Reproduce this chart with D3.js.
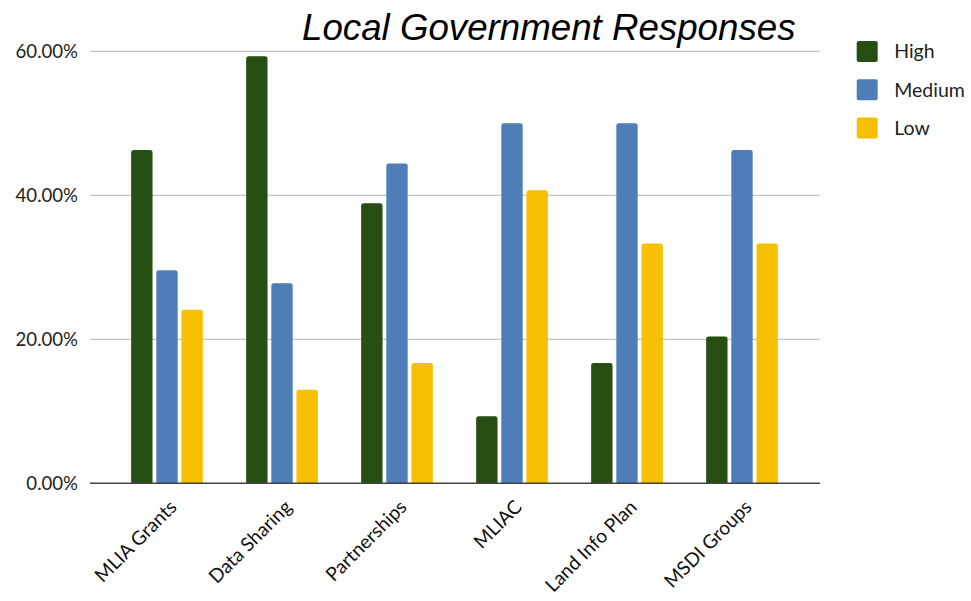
<!DOCTYPE html>
<html>
<head>
<meta charset="utf-8">
<script src="https://cdn.jsdelivr.net/npm/d3@7"></script>
<style>
  html, body { margin: 0; padding: 0; background: #ffffff; }
  svg { display: block; }
</style>
</head>
<body>
<svg id="chart" width="971" height="601"></svg>
<script>
const title = "Local Government Responses";
const categories = ["MLIA Grants", "Data Sharing", "Partnerships", "MLIAC", "Land Info Plan", "MSDI Groups"];
const seriesNames = ["High", "Medium", "Low"];
const highValues   = [0.463, 0.593, 0.389, 0.093, 0.167, 0.204];
const mediumValues = [0.296, 0.278, 0.444, 0.500, 0.500, 0.463];
const lowValues    = [0.241, 0.130, 0.167, 0.407, 0.333, 0.333];
const yTicks = [0, 0.2, 0.4, 0.6];
const colors = ["#274e13", "#4f7db7", "#f6c000"];

const seriesValues = [highValues, mediumValues, lowValues];
const svg = d3.select("#chart");
const font = "Lato, 'Open Sans', sans-serif";

const gridLeft = 90, gridRight = 820;
const y = d3.scaleLinear().domain([0, 0.6]).range([483.3, 51.3]);
const x0 = d3.scaleBand().domain(categories).range([109.5, 799.5]).padding(0);
const groupW = 71.7;
const x1 = d3.scaleBand().domain(seriesNames).range([0, groupW]).paddingInner(0.15).paddingOuter(0);

// gridlines
svg.append("g").selectAll("line").data(yTicks.filter(t => t > 0)).join("line")
  .attr("x1", gridLeft).attr("x2", gridRight)
  .attr("y1", d => y(d)).attr("y2", d => y(d))
  .attr("stroke", "#c6c6c6").attr("stroke-width", 1.2);

// y tick labels
svg.append("g").selectAll("text").data(yTicks).join("text")
  .attr("x", 78).attr("y", d => y(d)).attr("dy", "0.35em")
  .attr("text-anchor", "end")
  .attr("font-family", font).attr("font-size", 18.6).attr("fill", "#222")
  .text(d => d3.format(".2%")(d));

// bars with rounded tops
function barPath(bx, by, bw, bh, r) {
  r = Math.min(r, bh, bw / 2);
  return `M${bx},${by + bh} V${by + r} Q${bx},${by} ${bx + r},${by} H${bx + bw - r} Q${bx + bw},${by} ${bx + bw},${by + r} V${by + bh} Z`;
}
const groups = svg.append("g").selectAll("g").data(categories).join("g")
  .attr("transform", d => `translate(${x0(d) + (x0.bandwidth() - groupW) / 2},0)`);
groups.selectAll("path").data((c, ci) => seriesNames.map((s, si) => ({ s, si, v: seriesValues[si][ci] })))
  .join("path")
  .attr("d", d => barPath(x1(d.s), y(d.v), x1.bandwidth(), y(0) - y(d.v), 2.5))
  .attr("fill", d => colors[d.si]);

// x axis baseline
svg.append("line").attr("x1", gridLeft).attr("x2", gridRight)
  .attr("y1", y(0)).attr("y2", y(0))
  .attr("stroke", "#444").attr("stroke-width", 1.6);

// x labels
svg.append("g").selectAll("text").data(categories).join("text")
  .attr("transform", d => `translate(${x0(d) + x0.bandwidth() / 2 + 11},${y(0) + 25}) rotate(-45)`)
  .attr("text-anchor", "end")
  .attr("font-family", font).attr("font-size", 19.2).attr("fill", "#111")
  .text(d => d);

// title
svg.append("text").attr("x", 302).attr("y", 40)
  .attr("font-family", "'Liberation Sans', Arial, sans-serif")
  .attr("font-style", "italic").attr("font-size", 36.7).attr("fill", "#000")
  .text(title);

// legend
const legend = svg.append("g").selectAll("g").data(seriesNames).join("g")
  .attr("transform", (d, i) => `translate(856.7,${41 + i * 38.2})`);
legend.append("rect").attr("width", 21).attr("height", 21).attr("rx", 2)
  .attr("fill", (d, i) => colors[i]);
legend.append("text").attr("x", 37.5).attr("y", 10.5).attr("dy", "0.35em")
  .attr("font-family", font).attr("font-size", 19.5).attr("fill", "#222")
  .text(d => d);
</script>
</body>
</html>
